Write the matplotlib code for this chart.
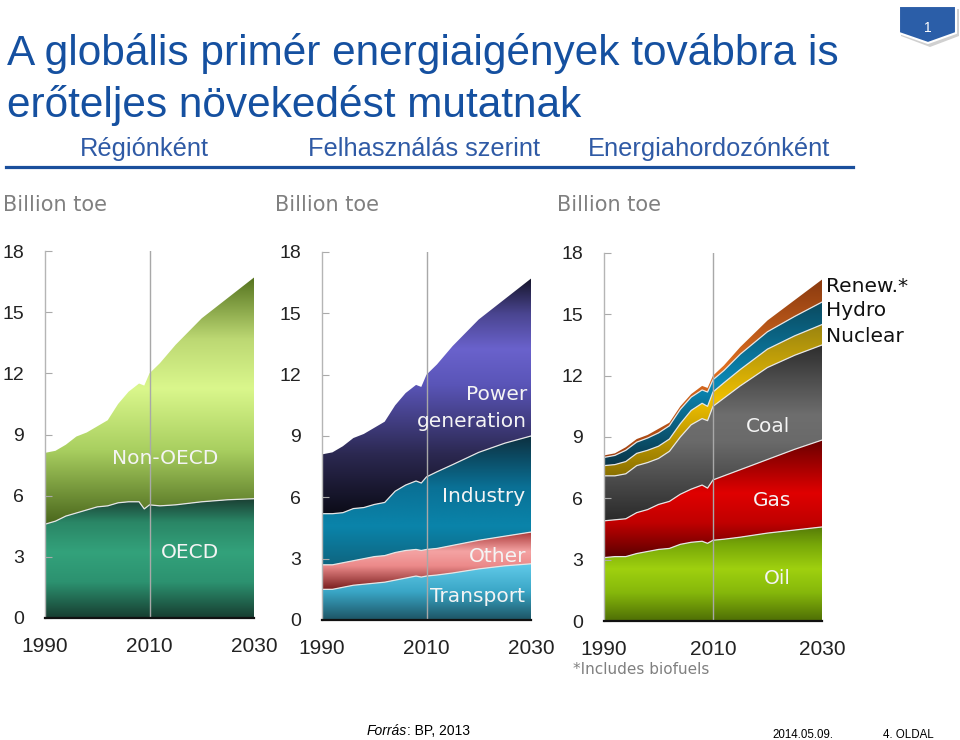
import numpy as np
import matplotlib
matplotlib.use("Agg")
import matplotlib.pyplot as plt
from matplotlib.colors import LinearSegmentedColormap
from matplotlib.patches import Polygon
from matplotlib.lines import Line2D

# ---- data (billion toe) ----
years = [1990, 1992, 1994, 1996, 1998, 2000, 2002, 2004, 2006, 2008, 2009,
         2010, 2012, 2015, 2020, 2025, 2030]

# by region
oecd = [4.6, 4.75, 5.0, 5.15, 5.3, 5.45, 5.5, 5.65, 5.7, 5.7, 5.35,
        5.55, 5.5, 5.55, 5.7, 5.8, 5.85]
non_oecd = [3.5, 3.45, 3.5, 3.75, 3.8, 3.95, 4.2, 4.85, 5.4, 5.8, 6.05,
            6.45, 7.0, 7.85, 9.0, 9.9, 10.85]

# by use
transport = [1.5, 1.5, 1.6, 1.7, 1.75, 1.8, 1.85, 1.95, 2.05, 2.15, 2.1,
             2.15, 2.2, 2.3, 2.5, 2.65, 2.75]
other = [1.2, 1.2, 1.2, 1.2, 1.25, 1.3, 1.3, 1.35, 1.35, 1.3, 1.3,
         1.3, 1.3, 1.35, 1.4, 1.45, 1.55]
industry = [2.5, 2.5, 2.45, 2.55, 2.5, 2.55, 2.6, 3.0, 3.2, 3.35, 3.3,
            3.55, 3.75, 3.95, 4.3, 4.55, 4.7]
power = [2.9, 3.0, 3.25, 3.45, 3.6, 3.75, 3.95, 4.2, 4.5, 4.7, 4.7,
         5.0, 5.25, 5.8, 6.5, 7.05, 7.7]

# by fuel
oil = [3.1, 3.15, 3.15, 3.3, 3.4, 3.5, 3.55, 3.75, 3.85, 3.9, 3.8,
       3.95, 4.0, 4.1, 4.3, 4.45, 4.6]
gas = [1.8, 1.8, 1.85, 2.0, 2.05, 2.2, 2.3, 2.45, 2.6, 2.75, 2.7,
       2.95, 3.1, 3.3, 3.6, 3.95, 4.25]
coal = [2.2, 2.15, 2.2, 2.3, 2.3, 2.25, 2.45, 2.8, 3.15, 3.25, 3.3,
        3.6, 3.8, 4.1, 4.5, 4.6, 4.65]
nuclear = [0.5, 0.55, 0.6, 0.6, 0.6, 0.6, 0.6, 0.65, 0.7, 0.75, 0.7,
           0.7, 0.75, 0.8, 0.9, 0.95, 1.0]
hydro = [0.4, 0.45, 0.55, 0.55, 0.6, 0.65, 0.65, 0.7, 0.65, 0.65, 0.7,
         0.6, 0.6, 0.75, 0.85, 0.95, 1.1]
renew = [0.1, 0.1, 0.15, 0.15, 0.15, 0.2, 0.15, 0.15, 0.15, 0.2, 0.2,
         0.2, 0.25, 0.35, 0.55, 0.8, 1.1]

yticks = [0, 3, 6, 9, 12, 15, 18]
xticks = [1990, 2010, 2030]

W, H = 960, 740
SANS = "Liberation Sans"
CHART = "DejaVu Sans"


def fx(px):
    return px / W


def fy(py):
    return 1 - py / H


def gradient_layer(ax, x, lower, upper, stops):
    coll = ax.fill_between(x, lower, upper, facecolor="none", edgecolor="none")
    cmap = LinearSegmentedColormap.from_list("g", stops)
    grad = np.linspace(0, 1, 256).reshape(-1, 1)
    im = ax.imshow(grad, cmap=cmap, origin="lower", aspect="auto",
                   extent=[x[0], x[-1], lower.min(), upper.max()],
                   interpolation="bicubic", zorder=1)
    im.set_clip_path(coll.get_paths()[0], transform=ax.transData)


def draw_stack(ax, layers):
    x = np.array(years, dtype=float)
    base = np.zeros(len(x))
    for vals, stops in layers:
        top = base + np.array(vals)
        gradient_layer(ax, x, base, top, stops)
        base = top
    # thin light seams between the layers
    base = np.zeros(len(x))
    for vals, _ in layers[:-1]:
        base = base + np.array(vals)
        ax.plot(x, base, color="#e6e6e6", lw=0.9, zorder=2)


def setup_axes(ax):
    ax.set_xlim(1990, 2030)
    ax.set_ylim(0, 18)
    for s in ["top", "right"]:
        ax.spines[s].set_visible(False)
    ax.spines["left"].set_color("#b5b5b5")
    ax.spines["left"].set_linewidth(1)
    ax.spines["bottom"].set_color("#111111")
    ax.spines["bottom"].set_linewidth(1.6)
    ax.spines["bottom"].set_zorder(5)
    ax.set_yticks(yticks)
    ax.set_xticks(xticks)
    ax.tick_params(axis="y", direction="in", length=5, color="#aaaaaa",
                   pad=15, labelsize=14, labelcolor="#222222")
    ax.tick_params(axis="x", length=0, pad=14, labelsize=15,
                   labelcolor="#222222")
    for lab in ax.get_xticklabels() + ax.get_yticklabels():
        lab.set_fontfamily(SANS)
    ax.axvline(2010, color="#a8a8a8", lw=1, zorder=3)
    ax.set_facecolor("none")


fig = plt.figure(figsize=(W / 100, H / 100), dpi=100)

panels = [(45, 254, 618, 251), (322, 531, 620, 252), (604, 822, 621, 253)]
axes = []
for l, r, b, t in panels:
    axes.append(fig.add_axes([fx(l), fy(b), (r - l) / W, (b - t) / H]))

draw_stack(axes[0], [
    (oecd, [(0, "#173d30"), (0.3, "#2c9270"), (0.55, "#33a27b"),
            (0.8, "#2a8666"), (1, "#1a3e32")]),
    (non_oecd, [(0, "#4a671c"), (0.3, "#a9cf60"), (0.55, "#daf78c"),
                (0.75, "#bcd873"), (1, "#55731f")]),
])
draw_stack(axes[1], [
    (transport, [(0, "#1d5464"), (0.5, "#3aa6c6"), (1, "#62cbea")]),
    (other, [(0, "#7a1f1f"), (0.4, "#ec8a8a"), (0.65, "#f4a3a3"),
             (1, "#a83434")]),
    (industry, [(0, "#0f6580"), (0.3, "#0a84aa"), (0.6, "#0a7196"),
                (1, "#0d3040")]),
    (power, [(0, "#0c0c18"), (0.25, "#2b2850"), (0.55, "#5a55b8"),
             (0.7, "#6a62cc"), (0.85, "#4a4590"), (1, "#15152a")]),
])
draw_stack(axes[2], [
    (oil, [(0, "#4e6e05"), (0.3, "#86b80b"), (0.55, "#9fd00f"),
           (0.8, "#78a808"), (1, "#557a08")]),
    (gas, [(0, "#5a0000"), (0.3, "#c00000"), (0.55, "#e00000"),
           (1, "#6a0000")]),
    (coal, [(0, "#2a2a2a"), (0.45, "#6a6a6a"), (0.6, "#6e6e6e"),
            (1, "#2e2e2e")]),
    (nuclear, [(0, "#8a7000"), (0.5, "#f0c000"), (1, "#9a8410")]),
    (hydro, [(0, "#0a3548"), (0.5, "#0a8ab8"), (1, "#0b4a60")]),
    (renew, [(0, "#a04010"), (0.5, "#e07020"), (1, "#8a3a10")]),
])
for ax in axes:
    setup_axes(ax)

# ---- chart texts ----
for x in [3, 275, 557]:
    fig.text(fx(x), fy(205), "Billion toe", family=CHART, fontsize=15,
             color="#808080", va="center")

inner = [
    ("Non-OECD", 165, 458, "center"), ("OECD", 190, 553, "center"),
    ("Power", 527, 395, "right"), ("generation", 527, 422, "right"),
    ("Industry", 484, 497, "center"), ("Other", 498, 556, "center"),
    ("Transport", 478, 596, "center"),
    ("Coal", 768, 427, "center"), ("Gas", 772, 501, "center"),
    ("Oil", 777, 578, "center"),
]
for txt, x, y, ha in inner:
    fig.text(fx(x), fy(y), txt, family=CHART, fontsize=14.5, color="#f4f4f4",
             ha=ha, va="center", zorder=10)

for txt, y in [("Renew.*", 286), ("Hydro", 311), ("Nuclear", 336)]:
    fig.text(fx(826), fy(y), txt, family=CHART, fontsize=14.5,
             color="#111111", va="center")
fig.text(fx(573), fy(669), "*Includes biofuels", family=CHART, fontsize=11,
         color="#808080", va="center")

# ---- slide title ----
blue = "#1550a0"
fig.text(fx(7), fy(65), "A globális primér energiaigények továbbra is",
         family=SANS, fontsize=30.5, color=blue, va="baseline")
fig.text(fx(7), fy(117), "erőteljes növekedést mutatnak",
         family=SANS, fontsize=30.5, color=blue, va="baseline")
for txt, x in [("Régiónként", 80), ("Felhasználás szerint", 308),
               ("Energiahordozónként", 588)]:
    fig.text(fx(x), fy(156), txt, family=SANS, fontsize=18.3, color="#2f5aa5",
             va="baseline")
fig.add_artist(Line2D([fx(6), fx(853)], [fy(167), fy(167)], color="#1a4f9c",
                      lw=2.3))

# badge in the corner
shadow = [(901, 9), (959, 9), (959, 36), (930, 47), (901, 36)]
badge = [(899, 6), (956, 6), (956, 33), (928, 43), (899, 33)]
fig.add_artist(Polygon([(fx(a), fy(b)) for a, b in shadow], closed=True,
                       transform=fig.transFigure, facecolor="#d0d0d0",
                       edgecolor="none"))
fig.add_artist(Polygon([(fx(a), fy(b)) for a, b in badge], closed=True,
                       transform=fig.transFigure, facecolor="#2b5ea8",
                       edgecolor="white", lw=1.5))
fig.text(fx(928), fy(28), "1", family=SANS, fontsize=10, color="white",
         ha="center", va="center")

# footer
fig.text(fx(367), fy(735), "Forrás", family=SANS, fontsize=10,
         style="italic", va="baseline")
fig.text(fx(407), fy(735), ": BP, 2013", family=SANS, fontsize=10,
         va="baseline")
fig.text(fx(772), fy(738), "2014.05.09.", family=SANS, fontsize=8.3,
         va="baseline")
fig.text(fx(883), fy(738), "4. OLDAL", family=SANS, fontsize=8.3,
         va="baseline")

fig.savefig("out.png", dpi=100)
